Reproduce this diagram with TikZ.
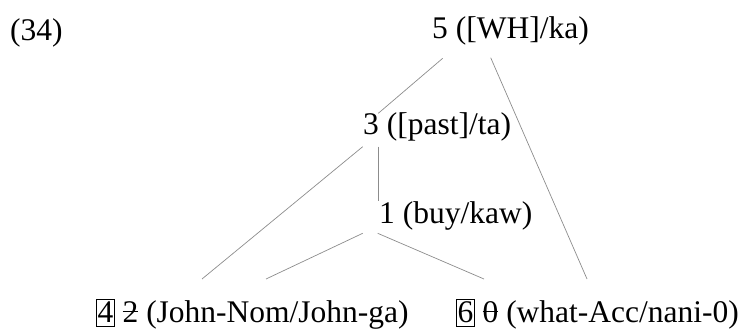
\documentclass[tikz,border=0pt]{standalone}
\usepackage{fontspec}
\setmainfont{Liberation Serif}
\usetikzlibrary{calc}
\definecolor{branchgray}{gray}{0.55}
\newsavebox\strkbox
% index digit in a tight frame
\newcommand\boxednum[1]{{\setlength\fboxsep{0.3pt}\setlength\fboxrule{1.1pt}\fbox{\rule[-4pt]{0pt}{26pt}#1}}}
% index digit struck through
\newcommand\strucknum[1]{\sbox\strkbox{#1}\rlap{\usebox\strkbox}\rule[0.32em]{\wd\strkbox}{1.1pt}}
\tikzset{
  lbl/.style={anchor=base west, inner sep=0pt, font=\fontsize{31.5}{36}\selectfont},
  branch/.style={draw=branchgray, line width=0.7pt}
}
\begin{document}
\begin{tikzpicture}[x=1pt,y=-1pt]
\useasboundingbox (0,0) rectangle (746,329);
% labels
\node[lbl] (ex) at (10,41) {(34)};
\node[lbl] (n5) at (432,39) {5 ([WH]/ka)};
\node[lbl] (n3) at (363,134) {3 ([past]/ta)};
\node[lbl] (n1) at (379,223) {1 (buy/kaw)};
\node[lbl] (nL) at (96,322) {\boxednum{4} \strucknum{2} (John-Nom/John-ga)};
\node[lbl] (nR) at (456,322) {\boxednum{6} \strucknum{0} (what-Acc/nani-0)};
% branches
\draw[branch] ($(n5.base west)+(10.7,19.3)$) -- ($(n3.base west)+(15.3,-20.7)$);
\draw[branch] ($(n5.base west)+(58.7,18.7)$) -- ($(nR.base west)+(131,-43)$);
\draw[branch] ($(n3.base west)+(-0.3,12.7)$) -- ($(nL.base west)+(106,-43)$);
\draw[branch] ($(n3.base west)+(15,12.7)$) -- ($(n1.base west)+(-1,-22)$);
\draw[branch] ($(n1.base west)+(-16.3,10.3)$) -- ($(nL.base west)+(170,-43)$);
\draw[branch] ($(n1.base west)+(-1.3,10.3)$) -- ($(nR.base west)+(28,-43)$);
\end{tikzpicture}
\end{document}
